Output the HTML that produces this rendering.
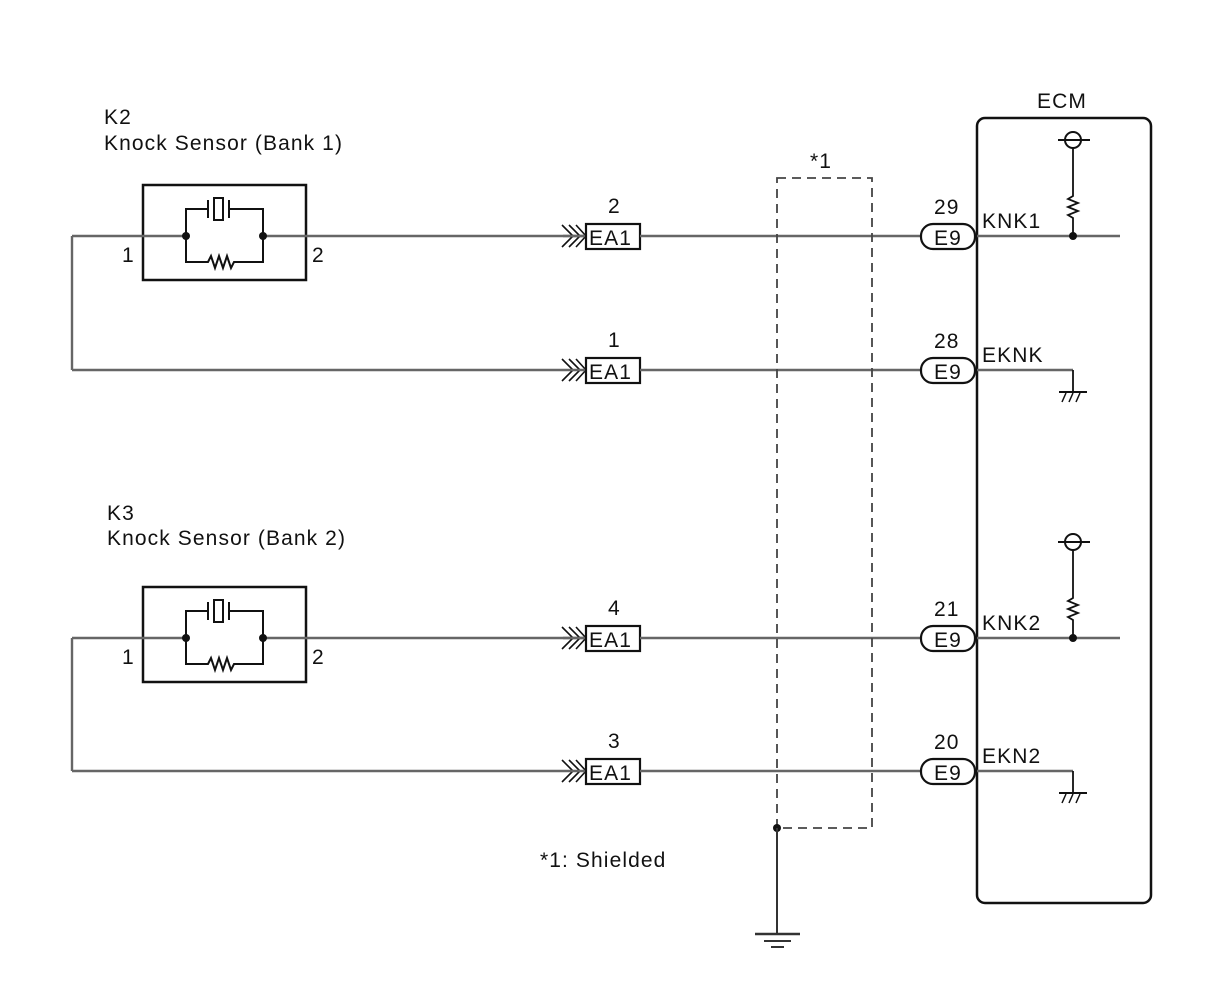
<!DOCTYPE html>
<html><head><style>html,body{margin:0;padding:0;background:#fff}svg{display:block}text{font-family:"Liberation Sans",Arial,sans-serif;font-size:21px;letter-spacing:1.1px;fill:#111}</style></head>
<body>
<svg width="1210" height="986" viewBox="0 0 1210 986" xmlns="http://www.w3.org/2000/svg">
<defs>
<g id="sensor">
  <rect x="143" y="185" width="163" height="95" fill="none" stroke="#111" stroke-width="2.5"/>
  <line x1="72" y1="236" x2="186" y2="236" stroke="#666" stroke-width="2.4"/>
  <line x1="263" y1="236" x2="586" y2="236" stroke="#666" stroke-width="2.4"/>
  <path d="M186 236 V209 H208 M208 200 V218 M214 198 h9 v22 h-9 z M229 200 V218 M229 209 H263 V236 M186 236 V262 H208 l3 -6 l4 12 l4 -12 l4 12 l4 -12 l4 12 l3 -6 H263 V236" fill="none" stroke="#111" stroke-width="2"/>
  <circle cx="186" cy="236" r="4" fill="#111"/><circle cx="263" cy="236" r="4" fill="#111"/>
  <text x="122" y="262">1</text><text x="312" y="262">2</text>
</g>
<g id="conn">
  <path d="M562 225 l11 11 l-11 11 M569 225 l11 11 l-11 11 M576 225 l10 11 l-10 11" fill="none" stroke="#111" stroke-width="1.6"/>
  <line x1="563" y1="236" x2="586" y2="236" stroke="#666" stroke-width="2.4"/>
  <rect x="586" y="224" width="54" height="25" fill="#fff" stroke="#111" stroke-width="2.2"/>
  <text x="589" y="245" letter-spacing="0">EA1</text>
  <line x1="640" y1="236" x2="921" y2="236" stroke="#666" stroke-width="2.4"/>
  <rect x="921" y="224" width="54" height="25" rx="12" fill="#fff" stroke="#111" stroke-width="2.2"/>
  <text x="934" y="245" letter-spacing="0">E9</text>
</g>
<g id="pull">
  <line x1="977" y1="236" x2="1120" y2="236" stroke="#666" stroke-width="2.4"/>
  <circle cx="1073" cy="140" r="8" fill="#fff" stroke="#111" stroke-width="2"/>
  <line x1="1058" y1="140" x2="1090" y2="140" stroke="#111" stroke-width="2"/>
  <path d="M1073 148 V196 l-5 3 l10 4 l-10 4 l10 4 l-10 4 l5 3 V236" fill="none" stroke="#111" stroke-width="1.8"/>
  <circle cx="1073" cy="236" r="4" fill="#111"/>
</g>
<g id="gnd">
  <line x1="977" y1="370" x2="1073" y2="370" stroke="#666" stroke-width="2.4"/>
  <line x1="1073" y1="370" x2="1073" y2="392" stroke="#111" stroke-width="1.8"/>
  <line x1="1059" y1="392" x2="1087" y2="392" stroke="#111" stroke-width="2"/>
  <path d="M1062 402 l4 -9 M1069 402 l4 -9 M1076 402 l4 -9" stroke="#111" stroke-width="1.5"/>
</g>
</defs>
<text x="104" y="124">K2</text><text x="104" y="150">Knock Sensor (Bank 1)</text>
<text x="107" y="520">K3</text><text x="107" y="545">Knock Sensor (Bank 2)</text>
<text x="1037" y="108">ECM</text>
<rect x="977" y="118" width="174" height="785" rx="8" fill="none" stroke="#111" stroke-width="2.5"/>

<use href="#sensor"/>
<use href="#sensor" transform="translate(0,402)"/>
<line x1="72" y1="236" x2="72" y2="370" stroke="#666" stroke-width="2.4"/>
<line x1="72" y1="370" x2="563" y2="370" stroke="#666" stroke-width="2.4"/>
<line x1="72" y1="638" x2="72" y2="771" stroke="#666" stroke-width="2.4"/>
<line x1="72" y1="771" x2="563" y2="771" stroke="#666" stroke-width="2.4"/>

<use href="#conn"/>
<use href="#conn" transform="translate(0,134)"/>
<use href="#conn" transform="translate(0,402)"/>
<use href="#conn" transform="translate(0,535)"/>

<text x="608" y="213">2</text><text x="608" y="347">1</text><text x="608" y="615">4</text><text x="608" y="748">3</text>
<text x="934" y="214">29</text><text x="934" y="348">28</text><text x="934" y="616">21</text><text x="934" y="749">20</text>
<text x="982" y="228">KNK1</text><text x="982" y="362">EKNK</text><text x="982" y="630">KNK2</text><text x="982" y="763">EKN2</text>

<use href="#pull"/><use href="#pull" transform="translate(0,402)"/>
<use href="#gnd"/><use href="#gnd" transform="translate(0,401)"/>

<rect x="777" y="178" width="95" height="650" fill="none" stroke="#444" stroke-width="1.8" stroke-dasharray="9,6"/>
<text x="810" y="168">*1</text>
<circle cx="777" cy="828" r="4" fill="#111"/>
<line x1="777" y1="828" x2="777" y2="934" stroke="#333" stroke-width="2"/>
<line x1="755" y1="934" x2="800" y2="934" stroke="#333" stroke-width="2.5"/>
<line x1="764" y1="941" x2="791" y2="941" stroke="#333" stroke-width="2"/>
<line x1="771" y1="947" x2="784" y2="947" stroke="#333" stroke-width="2"/>
<text x="540" y="867">*1: Shielded</text>
</svg>
</body></html>
